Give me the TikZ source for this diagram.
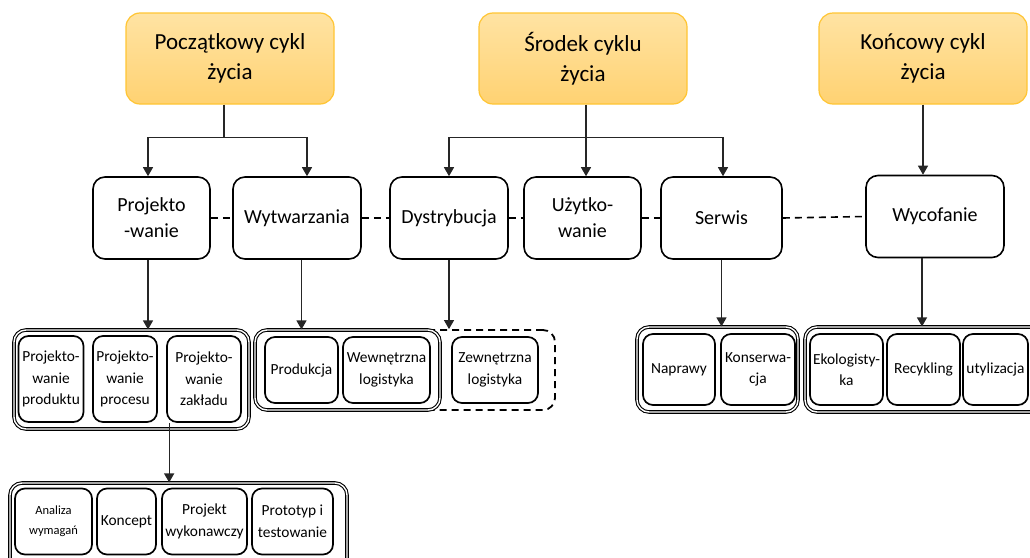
\documentclass[tikz,border=0pt]{standalone}
\usepackage{fontspec}
\setmainfont{Carlito}
\usetikzlibrary{arrows.meta}
\definecolor{topfillA}{HTML}{FFE3A3}
\definecolor{topfillB}{HTML}{FFD272}
\definecolor{topedge}{HTML}{FFC533}
\tikzset{
  topbox/.style={draw=topedge, line width=1.2pt, rounded corners=14pt, top color=topfillA, bottom color=topfillB, align=center, inner sep=0pt, font=\fontsize{23}{30}\selectfont},
  midbox/.style={draw, line width=1.6pt, rounded corners=12pt, fill=white, align=center, inner sep=0pt, font=\fontsize{20}{26}\selectfont},
  grp/.style={draw, double, line width=1.1pt, double distance=1.4pt, rounded corners=12pt, fill=white, inner sep=0pt},
  grpdash/.style={draw, line width=1.8pt, dash pattern=on 7pt off 5pt, rounded corners=12pt, inner sep=0pt},
  leaf/.style={draw, line width=1.7pt, rounded corners=10pt, align=center, inner sep=0pt, font=\fontsize{15.4}{21.5}\selectfont},
  leafsmall/.style={leaf, font=\fontsize{12.5}{20}\selectfont},
  conn/.style={line width=1.2pt, draw=black!85},
  arr/.style={conn, -{Triangle[width=10pt,length=9pt]}},
  dashlink/.style={line width=1.6pt, dash pattern=on 7pt off 5pt},
}
\begin{document}
\begin{tikzpicture}[x=1pt,y=-1pt]
\path[use as bounding box] (0,0) rectangle (1030,557);
\clip (0,0) rectangle (1030,557);

% top row
\node[topbox, minimum width=208pt, minimum height=91pt] (p1) at (230,58.5) {Początkowy cykl\\życia};
\node[topbox, minimum width=208pt, minimum height=91pt] (p2) at (583,58.5) {Środek cyklu\\życia};
\node[topbox, minimum width=208pt, minimum height=91pt] (p3) at (923,58.5) {Końcowy cykl\\życia};

% second row
\node[midbox, minimum width=117pt, minimum height=82pt] (c1) at (151.5,218) {Projekto\\-wanie};
\node[midbox, minimum width=128pt, minimum height=82pt] (c2) at (297,218) {Wytwarzania};
\node[midbox, minimum width=118pt, minimum height=82pt] (c3) at (449,218) {Dystrybucja};
\node[midbox, minimum width=117pt, minimum height=82pt] (c4) at (582.5,218) {Użytko-\\wanie};
\node[midbox, minimum width=121pt, minimum height=82pt] (c5) at (721.5,218) {Serwis};
\node[midbox, minimum width=138pt, minimum height=82pt] (c6) at (935,216.5) {Wycofanie};

\draw[dashlink] (c1.east) -- (c2.west);
\draw[dashlink] (c2.east) -- (c3.west);
\draw[dashlink] (c3.east) -- (c4.west);
\draw[dashlink] (c4.east) -- (c5.west);
\draw[dashlink] (c5.east) -- (c6.west);

% group 1
\node[grp, minimum width=235pt, minimum height=99pt] (g1) at (131.5,379.5) {};
\node[leaf, minimum width=65pt, minimum height=86pt] (i11) at (51,379) {Projekto-\\wanie\\produktu};
\node[leaf, minimum width=64pt, minimum height=86pt] (i12) at (125,379) {Projekto-\\wanie\\procesu};
\node[leaf, minimum width=74pt, minimum height=86pt] (i13) at (204,379) {Projekto-\\wanie\\zakładu};

% group 2 and 3
\node[grpdash, minimum width=155pt, minimum height=80pt] (g3) at (477.5,370) {};
\node[grp, minimum width=185pt, minimum height=80pt] (g2) at (347.5,370) {};
\node[leaf, minimum width=73pt, minimum height=66pt] (i21) at (301.5,370) {Produkcja};
\node[leaf, minimum width=87pt, minimum height=66pt] (i22) at (386.5,370) {Wewnętrzna\\logistyka};
\node[leaf, minimum width=86pt, minimum height=66pt] (i31) at (495,370) {Zewnętrzna\\logistyka};

% group 4
\node[grp, minimum width=161pt, minimum height=85pt] (g4) at (717.5,369.5) {};
\node[leaf, minimum width=72pt, minimum height=71pt] (i41) at (679,369.5) {Naprawy};
\node[leaf, minimum width=74pt, minimum height=71pt] (i42) at (758,369.5) {Konserwa-\\cja};

% group 5
\node[grp, minimum width=240pt, minimum height=85pt] (g5) at (925,369.5) {};
\node[leaf, minimum width=73pt, minimum height=71pt] (i51) at (846.5,369.5) {Ekologisty-\\ka};
\node[leaf, minimum width=73pt, minimum height=71pt] (i52) at (923.5,369.5) {Recykling};
\node[leaf, minimum width=65pt, minimum height=71pt] (i53) at (995.5,369.5) {utylizacja};

% group 6
\node[grp, minimum width=337pt, minimum height=92pt] (g6) at (178.5,529) {};
\node[leafsmall, minimum width=77pt, minimum height=66pt] (i61) at (53.5,521.5) {Analiza\\wymagań};
\node[leaf, minimum width=59pt, minimum height=66pt] (i62) at (126.5,521.5) {Koncept};
\node[leaf, minimum width=85pt, minimum height=66pt] (i63) at (204.5,521.5) {Projekt\\wykonawczy};
\node[leaf, minimum width=81pt, minimum height=66pt] (i64) at (292.5,521.5) {Prototyp i\\testowanie};

% top connectors
\coordinate (j1) at ([xshift=-6pt,yshift=-33pt]p1.south);
\draw[conn] ([xshift=-6pt]p1.south) -- (j1);
\draw[arr] (j1) -| ([xshift=-3.5pt]c1.north);
\draw[arr] (j1) -| ([xshift=10pt]c2.north);

\coordinate (j2) at ([xshift=3pt,yshift=-33pt]p2.south);
\draw[conn] ([xshift=3pt]p2.south) -- (j2);
\draw[arr] (j2) -| (c3.north);
\draw[arr] (j2) -| ([xshift=3.5pt]c4.north);
\draw[arr] (j2) -| ([xshift=1.5pt]c5.north);

\draw[arr] (p3.south) -- (p3.south |- c6.north);

% second to third
\coordinate (a1) at ([xshift=-3.5pt]c1.south);
\draw[arr] (a1) -- (a1 |- g1.north);
\coordinate (a2) at ([xshift=4.5pt]c2.south);
\draw[arr] (a2) -- (a2 |- g2.north);
\draw[arr] (c3.south) -- (c3.south |- g3.north);
\draw[arr] (c5.south) -- (c5.south |- g4.north);
\coordinate (a5) at ([xshift=-13pt]c6.south);
\draw[arr] (a5) -- (a5 |- g5.north);
\coordinate (a6) at ([xshift=3pt]i13.south west);
\draw[arr] (a6) -- (a6 |- g6.north);
\end{tikzpicture}
\end{document}
